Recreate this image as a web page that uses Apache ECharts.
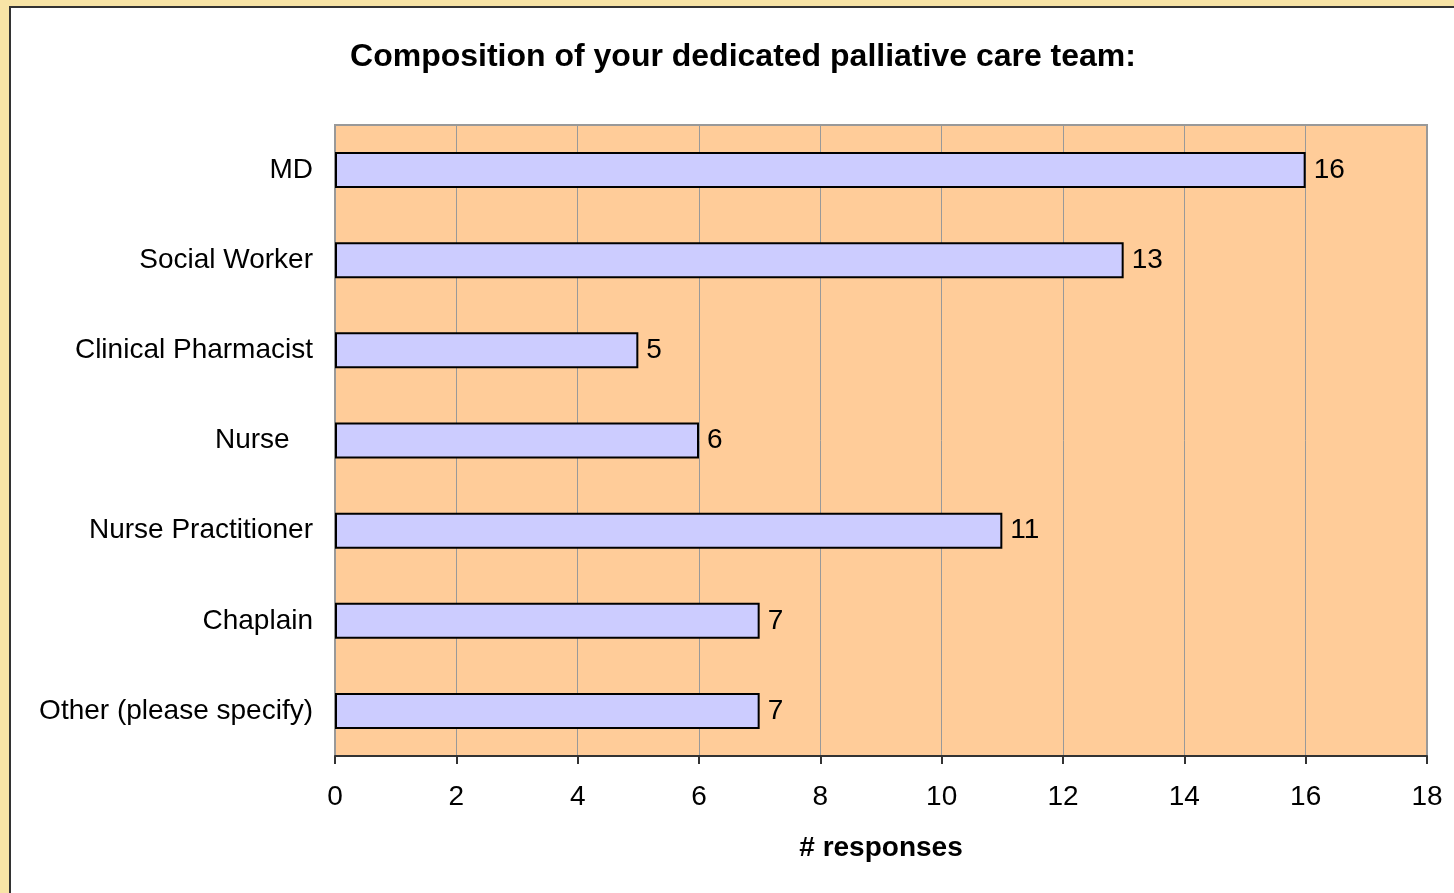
<!DOCTYPE html>
<html>
<head>
<meta charset="utf-8">
<script src="https://cdn.jsdelivr.net/npm/echarts@6/dist/echarts.min.js"></script>
<style>
  body { margin: 0; background: #F8E4A6; overflow: hidden; }
  #frame { position: absolute; left: 9px; top: 6px; width: 1500px; height: 1000px; background: #fff; border: 2px solid #333; }
  #chart { position: absolute; left: 0; top: 0; width: 1454px; height: 893px; }
</style>
</head>
<body>
<div id="frame"></div>
<div id="chart"></div>
<script>
// 数据
const categories = ['MD', 'Social Worker', 'Clinical Pharmacist', 'Nurse   ', 'Nurse Practitioner', 'Chaplain', 'Other (please specify)'];
const responses = [16, 13, 5, 6, 11, 7, 7];
const xMax = 18;
const xStep = 2;

const chart = echarts.init(document.getElementById('chart'), null, { renderer: 'canvas' });
const font = 'Liberation Sans, Arial, sans-serif';

const option = {
  backgroundColor: 'transparent',
  animation: false,
  title: {
    text: 'Composition of your dedicated palliative care team:',
    left: 738,
    top: 36,
    textAlign: 'center',
    textStyle: { fontFamily: font, fontSize: 32, fontWeight: 'bold', color: '#000' }
  },
  grid: {
    left: 335,
    top: 125,
    width: 1092,
    height: 631,
    show: true,
    backgroundColor: '#FFCC99',
    borderColor: '#999',
    borderWidth: 2
  },
  xAxis: {
    type: 'value',
    min: 0,
    max: xMax,
    interval: xStep,
    name: '# responses',
    nameLocation: 'middle',
    nameGap: 78,
    nameTextStyle: { fontFamily: font, fontSize: 28, fontWeight: 'bold', color: '#000' },
    axisLine: { show: true, lineStyle: { color: '#333', width: 2 } },
    axisTick: { show: true, length: 8, lineStyle: { color: '#333', width: 2 } },
    axisLabel: { fontFamily: font, fontSize: 28, color: '#000', margin: 27 },
    splitLine: { show: true, lineStyle: { color: '#999', width: 1 } }
  },
  yAxis: {
    type: 'category',
    data: categories,
    inverse: true,
    axisLine: { show: false },
    axisTick: { show: false },
    axisLabel: { fontFamily: font, fontSize: 28, color: '#000', margin: 22 }
  },
  series: [{
    type: 'bar',
    data: responses,
    barWidth: 36,
    itemStyle: { color: '#CCCCFF', borderColor: '#000', borderWidth: 2 },
    label: {
      show: true,
      position: 'right',
      distance: 8,
      fontFamily: font,
      fontSize: 28,
      color: '#000'
    }
  }]
};

chart.setOption(option);
</script>
</body>
</html>
